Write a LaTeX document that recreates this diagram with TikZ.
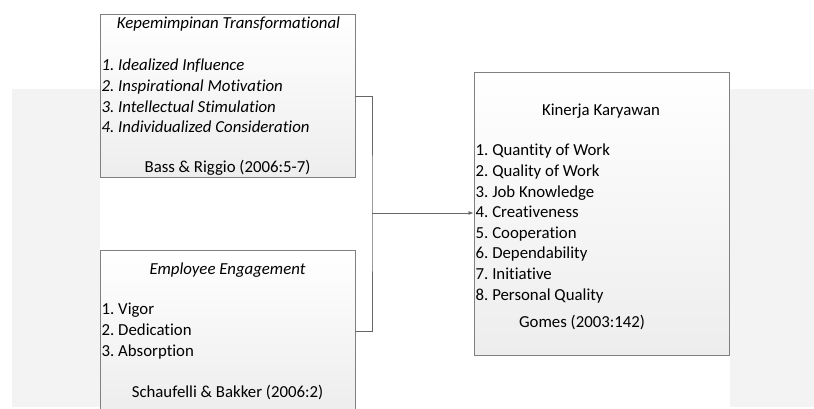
\documentclass[tikz,border=0pt]{standalone}
\usepackage{fontspec}
\setmainfont{Carlito}[Ligatures={NoCommon}]
\usetikzlibrary{arrows.meta}
\frenchspacing
\definecolor{bandgray}{RGB}{243,243,244}
\definecolor{boxline}{RGB}{128,128,128}
\tikzset{
  varbox/.style={draw=boxline,line width=0.8pt,top color=white,bottom color=black!7,
    inner sep=0pt,minimum width=255pt},
  boxtext/.style={inner sep=0pt,font=\fontsize{16.8}{20.6}\selectfont},
  itemlist/.style={boxtext,align=left,anchor=west},
  link/.style={draw=black!60,line width=0.7pt}
}
\begin{document}
\begin{tikzpicture}[x=1pt,y=-1pt]
    \useasboundingbox (0,0) rectangle (814,408);
    \fill[bandgray] (12,89) rectangle (814,407);
    \fill[white] (100,0) rectangle (730,408);
    \node[varbox,minimum height=163pt] (transf) at (227.5,95.5) {};
    \node[varbox,minimum height=160pt] (engage) at (227.5,330) {};
    \node[varbox,minimum height=283pt,line width=1pt] (kinerja) at (601.5,213.5) {};
    \node[boxtext] (transftitle) at (228.5,24) {\itshape Kepemimpinan Transformational};
    \node[itemlist] (transflist) at (101.5,96) {\itshape 1. Idealized Influence\\\itshape 2. Inspirational Motivation\\\itshape 3. Intellectual Stimulation\\\itshape 4. Individualized Consideration};
    \node[boxtext] (transfsrc) at (227.5,168) {Bass \& Riggio (2006:5-7)};
    \node[boxtext] (engagetitle) at (227.5,270) {\itshape Employee Engagement};
    \node[itemlist] (engagelist) at (101.5,331) {1. Vigor\\2. Dedication\\3. Absorption};
    \node[boxtext] (engagesrc) at (227.5,393) {Schaufelli \& Bakker (2006:2)};
    \node[boxtext] (kinerjatitle) at (601,111) {Kinerja Karyawan};
    \node[itemlist] (kinerjalist) at (475.5,223.5) {1. Quantity of Work\\2. Quality of Work\\3. Job Knowledge\\4. Creativeness\\5. Cooperation\\6. Dependability\\7. Initiative\\8. Personal Quality};
    \node[boxtext] (kinerjasrc) at (582,323) {Gomes (2003:142)};
    \coordinate (join) at (372,213);
    \draw[link] (transf.east |- 0,96) -| (join) |- (engage.east |- 0,331);
    \draw[link,-{Latex[length=5pt,width=4pt]}] (join) -- (kinerja.west |- join);
\end{tikzpicture}
\end{document}
